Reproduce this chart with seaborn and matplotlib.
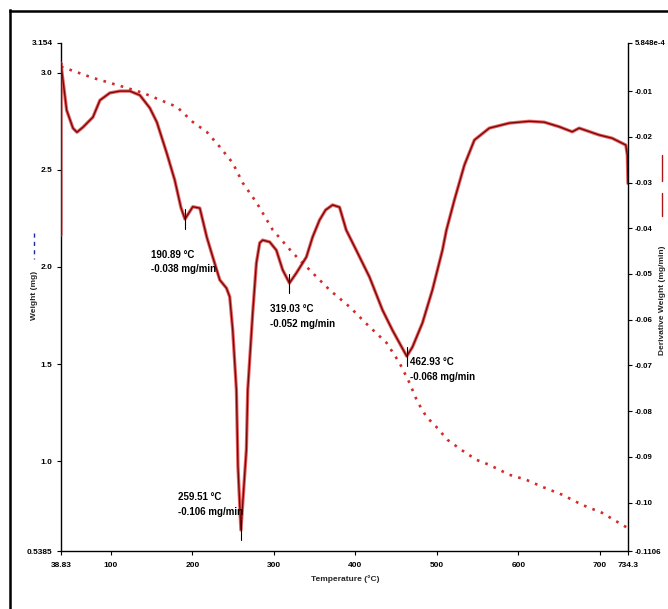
import matplotlib
matplotlib.use("Agg")
import matplotlib.pyplot as plt
from matplotlib.lines import Line2D
import seaborn as sns
import pandas as pd

# ---------------- data ----------------
tga_temp = [38.8, 78.0, 111.1, 139.3, 160.1, 180.9, 200.5, 217.6, 233.6, 249.5, 261.7,
            278.9, 298.5, 323.0, 343.8, 368.3, 392.8, 417.3, 438.1, 454.0, 466.3, 476.1,
            487.1, 499.3, 512.8, 529.9, 548.3, 564.2, 588.7, 609.5, 629.1, 653.6, 678.1,
            702.6, 723.4, 734.3]
tga_weight = [3.031, 2.973, 2.932, 2.896, 2.860, 2.824, 2.746, 2.695, 2.618, 2.535, 2.433,
              2.330, 2.191, 2.073, 1.985, 1.882, 1.795, 1.692, 1.610, 1.507, 1.404, 1.306,
              1.229, 1.177, 1.111, 1.059, 1.008, 0.982, 0.931, 0.905, 0.869, 0.828, 0.776,
              0.735, 0.683, 0.656]

dtg_temp = [38.83, 38.9, 39.7, 45.8, 53.5, 58.4, 65.8, 78.0, 86.6, 98.8, 111.1, 123.3, 135.6,
            147.8, 156.4, 168.6, 178.4, 186.0, 190.89, 200.5, 209.1, 217.6, 225.0, 233.6,
            241.8, 245.8, 249.5, 254.0, 255.9, 259.51, 266.2, 267.9, 274.0, 278.5, 282.6,
            286.2, 294.8, 303.0, 310.7, 319.03, 327.5, 339.8, 347.5, 356.0, 363.4, 372.0,
            380.5, 388.7, 401.0, 417.3, 433.2, 445.4, 454.0, 462.93, 469.9, 482.2, 494.4,
            506.7, 511.6, 521.4, 533.6, 545.9, 564.2, 588.7, 613.2, 631.6, 650.0, 665.9,
            674.4, 698.9, 714.8, 731.6, 733.5, 734.3]
dtg_deriv = [-0.0415, -0.0039, -0.0054, -0.0142, -0.0181, -0.0190, -0.0179, -0.0157, -0.0120,
             -0.0104, -0.0100, -0.0100, -0.0109, -0.0137, -0.0168, -0.0236, -0.0295, -0.0355,
             -0.038, -0.0353, -0.0356, -0.0419, -0.0463, -0.0513, -0.0531, -0.0550, -0.0623,
             -0.0754, -0.0921, -0.106, -0.0885, -0.0754, -0.0585, -0.0476, -0.0432, -0.0426,
             -0.0430, -0.0448, -0.0491, -0.052, -0.0498, -0.0463, -0.0419, -0.0382, -0.0360,
             -0.0349, -0.0354, -0.0404, -0.0448, -0.0507, -0.0579, -0.0623, -0.0651, -0.068,
             -0.0660, -0.0607, -0.0535, -0.0448, -0.0404, -0.0338, -0.0262, -0.0207, -0.0181,
             -0.0170, -0.0166, -0.0168, -0.0178, -0.0189, -0.0181, -0.0196, -0.0203, -0.0218,
             -0.0240, -0.0302]

peak_temp = [190.89, 259.51, 319.03, 462.93]
peak_deriv = [-0.038, -0.106, -0.052, -0.068]
peak_labels = ["190.89 °C\n-0.038 mg/min", "259.51 °C\n-0.106 mg/min",
               "319.03 °C\n-0.052 mg/min", "462.93 °C\n-0.068 mg/min"]

x_ticks = [38.83, 100, 200, 300, 400, 500, 600, 700, 734.3]
x_ticklabels = ["38.83", "100", "200", "300", "400", "500", "600", "700", "734.3"]
w_ticks = [0.5385, 1.0, 1.5, 2.0, 2.5, 3.0, 3.154]
w_ticklabels = ["0.5385", "1.0", "1.5", "2.0", "2.5", "3.0", "3.154"]
d_ticks = [-0.1106, -0.10, -0.09, -0.08, -0.07, -0.06, -0.05, -0.04, -0.03, -0.02, -0.01, 5.848e-4]
d_ticklabels = ["-0.1106", "-0.10", "-0.09", "-0.08", "-0.07", "-0.06", "-0.05", "-0.04",
                "-0.03", "-0.02", "-0.01", "5.848e-4"]

# ---------------- style ----------------
sns.set_style("white")
plt.rcParams["font.family"] = ["Liberation Sans Narrow", "Liberation Sans", "DejaVu Sans"]
plt.rcParams["font.weight"] = "bold"

fig = plt.figure(figsize=(6.68, 6.09), dpi=100)
ax = fig.add_axes([0.0913, 0.0952, 0.8488, 0.8347])
ax2 = ax.twinx()

tga = pd.DataFrame({"T": tga_temp, "W": tga_weight})
dtg = pd.DataFrame({"T": dtg_temp, "D": dtg_deriv})

sns.lineplot(data=tga, x="T", y="W", ax=ax, color="#d42a2a", lw=1.9,
             linestyle=(0, (1, 2.4)), sort=False, estimator=None)
sns.lineplot(data=dtg, x="T", y="D", ax=ax2, color="#e03030", lw=2.4, alpha=0.75,
             sort=False, estimator=None)
sns.lineplot(data=dtg, x="T", y="D", ax=ax2, color="#7a0808", lw=1.0,
             sort=False, estimator=None)

ax.set_xlim(x_ticks[0], x_ticks[-1])
ax.set_ylim(w_ticks[0], w_ticks[-1])
ax2.set_ylim(d_ticks[0], d_ticks[-1])

ax.set_xticks(x_ticks)
ax.set_xticklabels(x_ticklabels)
ax.set_yticks(w_ticks)
ax.set_yticklabels(w_ticklabels)
ax2.set_yticks(d_ticks)
ax2.set_yticklabels(d_ticklabels)

for a in (ax, ax2):
    a.set_xlabel("")
    a.set_ylabel("")
    a.spines["top"].set_visible(False)
    for s in a.spines.values():
        s.set_color("black")
        s.set_linewidth(1.0)
    a.tick_params(direction="out", length=3, width=0.8, labelsize=6, pad=3, colors="black")
ax.spines["right"].set_visible(False)
ax2.spines["left"].set_visible(False)
ax2.spines["bottom"].set_visible(False)
ax.tick_params(axis="y", left=True)
ax.tick_params(axis="x", bottom=True, pad=5)
ax2.tick_params(axis="y", right=True, pad=2, labelsize=5.7)

# peak markers and labels
offsets = [(-24.5, -22.0), (-45.5, 27.5), (-14.0, -15.0), (2.2, -0.7)]
for t, d, lab, off in zip(peak_temp, peak_deriv, peak_labels, offsets):
    ax2.plot([t, t], [d + 0.0021, d - 0.0021], color="black", lw=0.8)
    ax2.annotate(lab, xy=(t, d), xytext=off, textcoords="offset points",
                 ha="left", va="top", fontsize=7, fontweight="bold",
                 linespacing=1.6, color="black")

# axis labels
fig.text(0.5165, 0.049, "Temperature (°C)", ha="center", va="center", fontsize=6, fontweight="bold")
fig.text(34 / 668, 1 - 295 / 609, "Weight (mg)", rotation=90, ha="center", va="center",
         fontsize=6, fontweight="bold")
fig.add_artist(Line2D([34 / 668, 34 / 668], [1 - 233 / 609, 1 - 259 / 609], color="#1f2f9a",
                      lw=1.0, linestyle=(0, (3, 3)), transform=fig.transFigure))
fig.text(662 / 668, 1 - 300 / 609, "Derivative Weight (mg/min)", rotation=90, ha="center",
         va="center", fontsize=6, fontweight="bold")
fig.add_artist(Line2D([662 / 668, 662 / 668], [1 - 155 / 609, 1 - 181 / 609], color="#b01515",
                      lw=1.0, transform=fig.transFigure))
fig.add_artist(Line2D([662 / 668, 662 / 668], [1 - 193 / 609, 1 - 216 / 609], color="#b01515",
                      lw=1.0, transform=fig.transFigure))

# outer frame (top and left edges visible)
fig.add_artist(Line2D([9.5 / 668, 9.5 / 668], [0, 1 - 10 / 609], color="black", lw=1.8,
                      transform=fig.transFigure, solid_capstyle="projecting"))
fig.add_artist(Line2D([9.5 / 668, 1], [1 - 10.5 / 609, 1 - 10.5 / 609], color="black", lw=1.8,
                      transform=fig.transFigure, solid_capstyle="projecting"))

fig.savefig("out.png", dpi=100)
